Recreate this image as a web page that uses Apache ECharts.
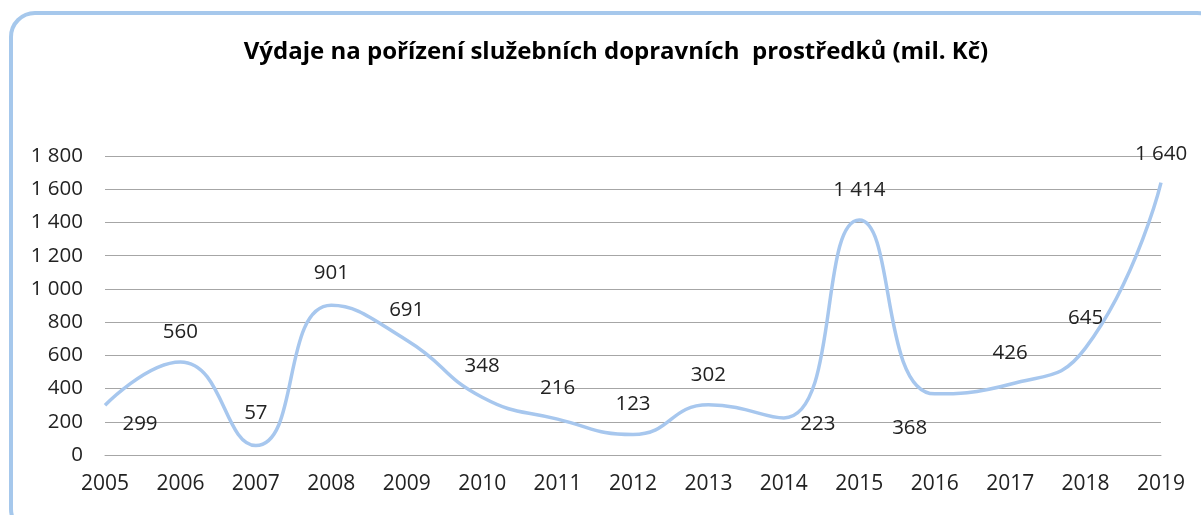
<!DOCTYPE html>
<html>
<head>
<meta charset="utf-8">
<script src="https://cdn.jsdelivr.net/npm/echarts@6/dist/echarts.min.js"></script>
<style>html,body{margin:0;padding:0;background:#fff}#c{width:1201px;height:515px}</style>
</head>
<body>
<div id="c"></div>
<script>
const titleText = 'Výdaje na pořízení služebních dopravních  prostředků (mil. Kč)';
const years = ['2005','2006','2007','2008','2009','2010','2011','2012','2013','2014','2015','2016','2017','2018','2019'];
const values = [299, 560, 57, 901, 691, 348, 216, 123, 302, 223, 1414, 368, 426, 645, 1640];
const yTicks = {min: 0, max: 1800, interval: 200};
// label offsets (layout only)
const labelOffsets = [[35,19],[0,-30],[0,-32],[0,-32],[0,-30],[0,-31],[0,-31],[0,-30],[0,-30],[34,6],[0,-30],[-25,34],[0,-31],[0,-30],[0,-28]];

const fmt = v => String(v).replace(/\B(?=(\d{3})+(?!\d))/g, ' ');
const FONT = 'Open Sans';

const chart = echarts.init(document.getElementById('c'), null, {renderer: 'canvas'});
chart.setOption({
  animation: false,
  backgroundColor: '#fff',
  title: {
    text: titleText, left: 611, top: 35, textAlign: 'center',
    textStyle: {fontFamily: FONT, fontWeight: 'bold', fontSize: 24, color: '#000'}
  },
  graphic: [{
    type: 'rect', shape: {x: 11, y: 13, width: 1210, height: 520, r: 24},
    style: {fill: 'none', stroke: '#A6C8EC', lineWidth: 4}, z: -1
  }],
  grid: {left: 105, right: 40, top: 156, bottom: 60, containLabel: false},
  xAxis: {
    type: 'category', data: years, boundaryGap: false,
    axisLine: {lineStyle: {color: '#A6A6A6', width: 1}},
    axisTick: {show: false},
    axisLabel: {fontFamily: FONT, fontSize: 21, color: '#222', margin: 19}
  },
  yAxis: {
    type: 'value', min: yTicks.min, max: yTicks.max, interval: yTicks.interval,
    axisLine: {show: false}, axisTick: {show: false},
    splitLine: {lineStyle: {color: '#A6A6A6', width: 1}},
    axisLabel: {fontFamily: FONT, fontSize: 20.5, color: '#222', margin: 22, formatter: fmt}
  },
  series: [{
    type: 'line', smooth: 0.5,
    data: values.map((v, i) => ({value: v, label: {offset: labelOffsets[i]}})),
    showSymbol: true, symbol: 'circle', symbolSize: 1,
    itemStyle: {color: 'rgba(0,0,0,0)'},
    lineStyle: {color: '#A7C7EE', width: 3.5},
    label: {show: true, position: 'inside', fontFamily: FONT, fontSize: 20.5, color: '#222', formatter: p => fmt(p.value)}
  }]
});
</script>
</body>
</html>
